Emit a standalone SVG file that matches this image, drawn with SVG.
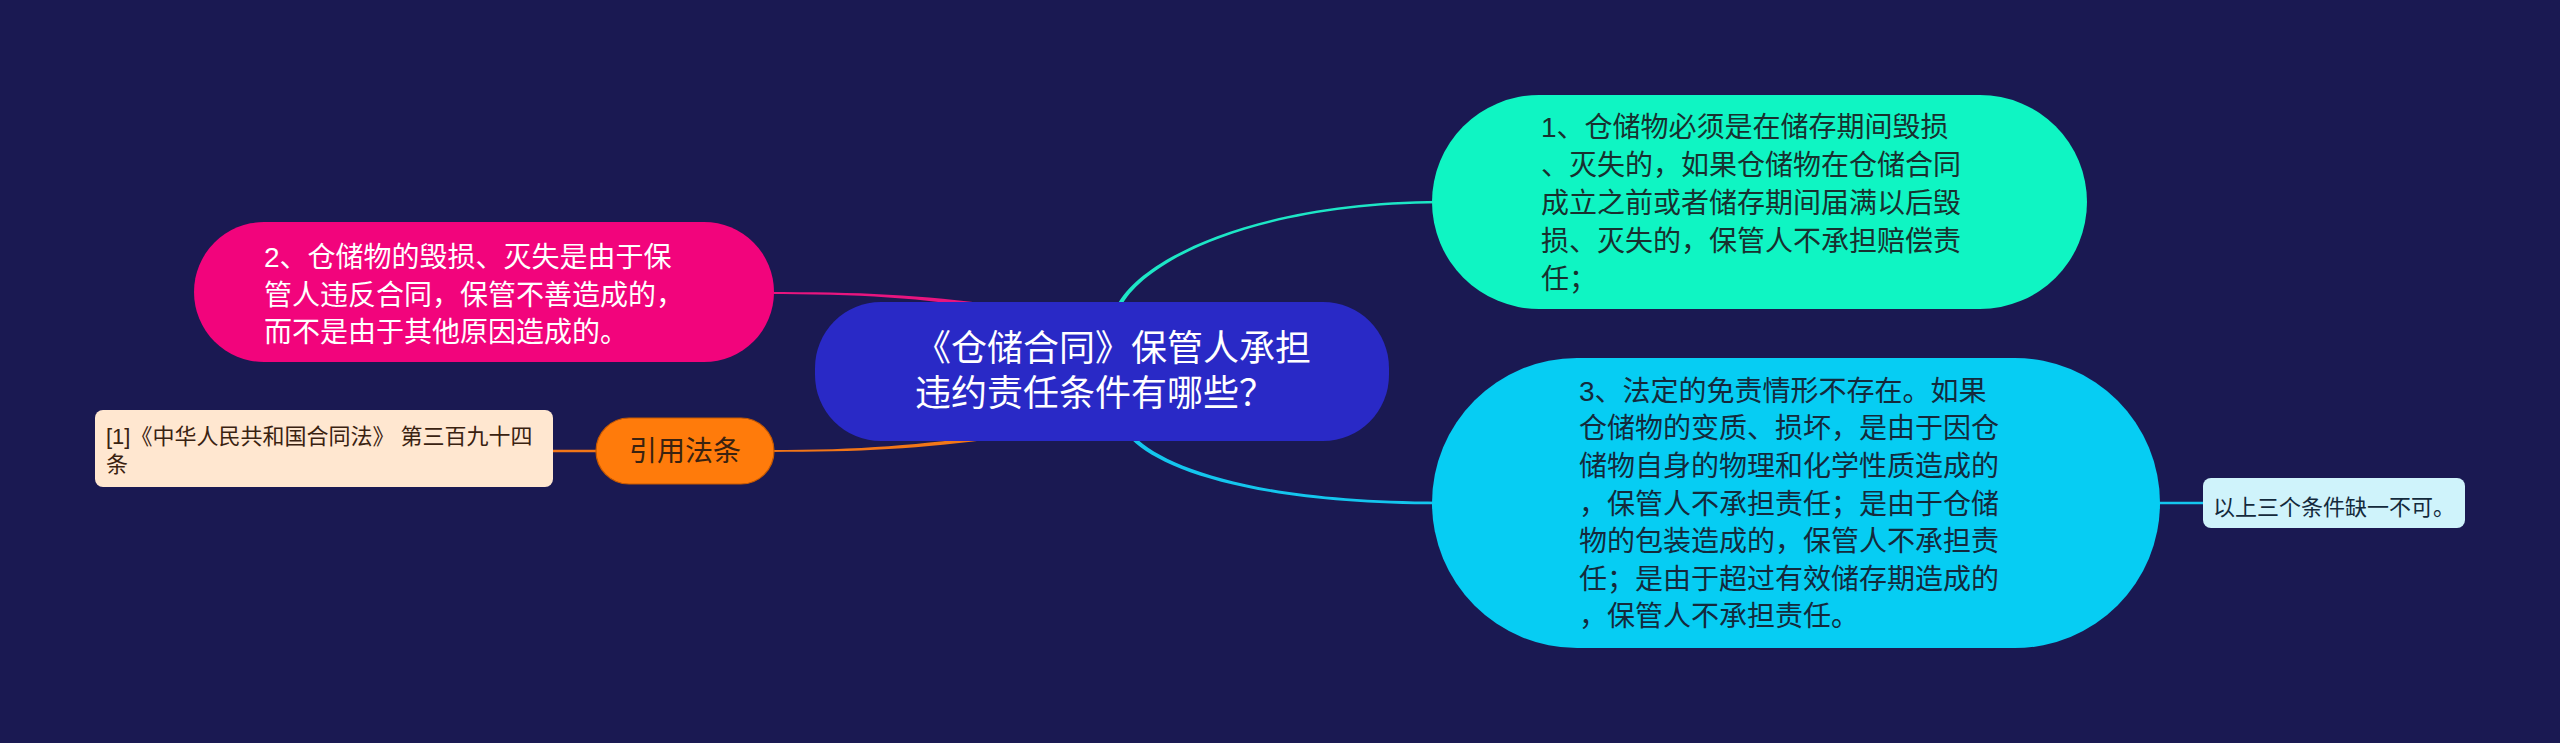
<svg xmlns="http://www.w3.org/2000/svg" width="2560" height="743" viewBox="0 0 2560 743">
<style>
text{font-family:"Liberation Sans","Noto Sans CJK SC",sans-serif}
.t28{font-size:28px}
.t36{font-size:36px;fill:#ffffff}
.t22{font-size:22px}
.w{fill:#ffffff}
.dk{fill:#18302f}
.dc{fill:#142a3c}
.br{fill:#3a2210}
</style>
<rect x="0" y="0" width="2560" height="743" fill="#1a1952"/>
<g id="connectors">
<path d="M1120.8 306.9 C1146.8 257.9 1260 204.3 1440 203.3 L1440 200.7 C1260 201.7 1143.2 256.1 1117.2 305.1 Z" fill="#1de6c6"/>
<path d="M1134.4 436.6 C1166.4 468.6 1260 501.7 1440 501.7 L1440 504.3 C1260 504.3 1163.6 471.4 1131.6 439.4 Z" fill="#14c6ee"/>
<path d="M765 292 C860 292 920 294.5 1000 305.5 L1000 310.5 C920 297.5 860 294 765 294 Z" fill="#e8157f"/>
<path d="M770 450.1 C860 450.1 920 445 1000 434 L1000 438 C920 449 860 451.9 770 451.9 Z" fill="#f27618"/>
<line x1="550" y1="451" x2="600" y2="451" stroke="#f27618" stroke-width="2.5"/>
<line x1="2155" y1="503" x2="2206" y2="503" stroke="#14c6ee" stroke-width="2.6"/>
</g>
<g id="root">
<rect x="815" y="302" width="574" height="139" rx="66" fill="#2929c6"/>
<text class="t36" x="915" y="361">《仓储合同》保管人承担</text>
<text class="t36" x="915" y="406">违约责任条件有哪些？</text>
</g>
<g id="n1">
<rect x="1432" y="95" width="655" height="214" rx="107" fill="#0ff5c3"/>
<text class="t28 dk" x="1541" y="136.6">1、仓储物必须是在储存期间毁损</text>
<text class="t28 dk" x="1541" y="174.6">、灭失的，如果仓储物在仓储合同</text>
<text class="t28 dk" x="1541" y="212.6">成立之前或者储存期间届满以后毁</text>
<text class="t28 dk" x="1541" y="250.6">损、灭失的，保管人不承担赔偿责</text>
<text class="t28 dk" x="1541" y="288.6">任；</text>
</g>
<g id="n2">
<rect x="194" y="222" width="580" height="140" rx="70" fill="#f2047c"/>
<text class="t28 w" x="264" y="267">2、仓储物的毁损、灭失是由于保</text>
<text class="t28 w" x="264" y="304.5">管人违反合同，保管不善造成的，</text>
<text class="t28 w" x="264" y="342">而不是由于其他原因造成的。</text>
</g>
<g id="n3">
<rect x="1432" y="358" width="728" height="290" rx="145" fill="#06cdf3"/>
<text class="t28 dc" x="1579" y="400.8">3、法定的免责情形不存在。如果</text>
<text class="t28 dc" x="1579" y="438.4">仓储物的变质、损坏，是由于因仓</text>
<text class="t28 dc" x="1579" y="476">储物自身的物理和化学性质造成的</text>
<text class="t28 dc" x="1579" y="513.6">，保管人不承担责任；是由于仓储</text>
<text class="t28 dc" x="1579" y="551.2">物的包装造成的，保管人不承担责</text>
<text class="t28 dc" x="1579" y="588.8">任；是由于超过有效储存期造成的</text>
<text class="t28 dc" x="1579" y="626.4">，保管人不承担责任。</text>
</g>
<g id="cite">
<rect x="596" y="418" width="178" height="66" rx="33" fill="#ff7b0b" stroke="#c85a00" stroke-width="1.2"/>
<text class="t28 br" x="685" y="461" text-anchor="middle">引用法条</text>
</g>
<g id="ref">
<rect x="95" y="410" width="458" height="77" rx="8" fill="#ffe7d0"/>
<text class="t22 br" x="106" y="443.5">[1]《中华人民共和国合同法》 第三百九十四</text>
<text class="t22 br" x="106" y="472">条</text>
</g>
<g id="note">
<rect x="2203" y="478" width="262" height="50" rx="8" fill="#cff3fb"/>
<text class="t22 dc" x="2213" y="515">以上三个条件缺一不可。</text>
</g>
</svg>
